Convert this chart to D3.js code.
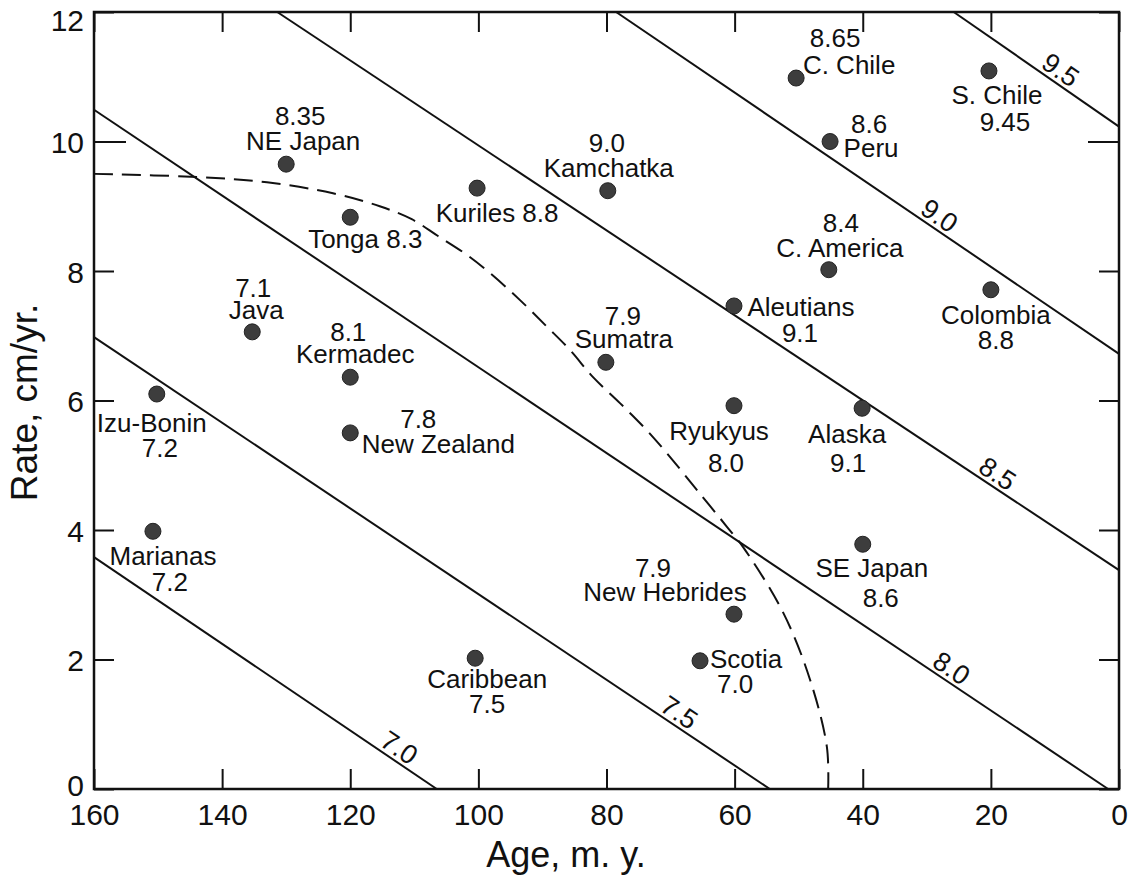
<!DOCTYPE html>
<html>
<head>
<meta charset="utf-8">
<script src="https://cdn.jsdelivr.net/npm/d3@7"></script>
<style>
  body { margin: 0; background: #fff; }
  svg text { font-family: "Liberation Sans", Arial, sans-serif; fill: #111; }
</style>
</head>
<body>
<svg id="chart" width="1132" height="882"></svg>
<script>
const names = ["NE Japan", "Tonga", "Kuriles", "Kamchatka", "C. Chile", "S. Chile", "Peru", "C. America",
  "Colombia", "Aleutians", "Sumatra", "Ryukyus", "Alaska", "Java", "Kermadec", "Izu-Bonin",
  "New Zealand", "Marianas", "SE Japan", "New Hebrides", "Scotia", "Caribbean"];
const ages = [130.0, 120.0, 100.2, 79.8, 50.4, 20.3, 45.1, 45.3, 20.0, 60.1, 80.1, 60.1, 40.1, 135.3,
  120.0, 150.2, 120.0, 150.8, 40.0, 60.1, 65.4, 100.5];
const rates = [9.65, 8.83, 9.28, 9.24, 10.98, 11.09, 10.0, 8.02, 7.71, 7.46, 6.59, 5.92, 5.88, 7.06,
  6.36, 6.10, 5.50, 3.98, 3.78, 2.70, 1.98, 2.02];
const mags = ["8.35", "8.3", "8.8", "9.0", "8.65", "9.45", "8.6", "8.4", "8.8", "9.1", "7.9", "8.0",
  "9.1", "7.1", "8.1", "7.2", "7.8", "7.2", "8.6", "7.9", "7.0", "7.5"];

const contourMags = ["7.0", "7.5", "8.0", "8.5", "9.0", "9.5"];
const contourFrom = [[160, 3.58], [160, 6.98], [160, 10.49], [131.4, 12], [78.5, 12], [25.8, 12]];
const contourTo = [[106.5, 0], [54.5, 0], [1.7, 0], [0, 3.38], [0, 6.72], [0, 10.23]];
const contourLabelAge = [113.5, 69.8, 27.3, 20.1, 29.2, 10.3];

// dashed boundary curve
const curveAge = [160, 143.5, 133.0, 122.7, 115.4, 110.4, 106.3, 101.8, 98.2, 93.5, 89.3, 85.7, 82.1,
  77.9, 73.7, 70.1, 65.9, 61.2, 58.7, 52.4, 48.2, 45.6, 45.4];
const curveRate = [9.50, 9.45, 9.37, 9.20, 9.00, 8.80, 8.54, 8.25, 7.97, 7.55, 7.14, 6.78, 6.36,
  5.96, 5.54, 5.13, 4.62, 4.05, 3.74, 2.72, 1.68, 0.65, 0.0];

const xTicks = [160, 140, 120, 100, 80, 60, 40, 20, 0];
const yTicks = [0, 2, 4, 6, 8, 10, 12];

// label placement: [dx, dy] of name line and magnitude line, relative to the dot
const labelPos = [
  [[17, -14], [14, -39]], [[15, 31]], [[20, 34]], [[1, -14], [-1, -39]], [[53, -4], [39, -31]],
  [[8, 33], [16, 60]], [[41, 15], [39, -9]], [[11, -13], [12, -38]], [[5, 34], [5, 59]],
  [[67, 10], [66, 36]], [[18, -14], [17, -37]], [[-15, 34], [-8, 66]], [[-15, 35], [-14, 64]],
  [[4, -13], [1, -35]], [[5, -14], [-2, -36]], [[-5, 38], [3, 63]], [[88, 20], [68, -5]],
  [[10, 34], [17, 60]], [[9, 33], [18, 63]], [[-69, -13], [-81, -37]], [[46, 7], [35, 32]],
  [[12, 30], [12, 55]]
];

const svg = d3.select("#chart");
const margin = { top: 12, right: 13, bottom: 93, left: 94 };
const width = 1132, height = 882;

const x = d3.scaleLinear().domain([160, 0]).range([margin.left, width - margin.right]);
const y = d3.scaleLinear().domain([0, 12]).range([height - margin.bottom, margin.top]);

const axBottom = svg.append("g")
  .attr("transform", `translate(0,${height - margin.bottom})`)
  .call(d3.axisBottom(x).tickValues(xTicks).tickSize(-20).tickSizeOuter(0).tickPadding(15));
const axTop = svg.append("g")
  .attr("transform", `translate(0,${margin.top})`)
  .call(d3.axisTop(x).tickValues(xTicks).tickSize(-20).tickSizeOuter(0).tickFormat(""));
const axLeft = svg.append("g")
  .attr("transform", `translate(${margin.left},0)`)
  .call(d3.axisLeft(y).tickValues(yTicks).tickSize(-20).tickSizeOuter(0).tickPadding(10));
const axRight = svg.append("g")
  .attr("transform", `translate(${width - margin.right},0)`)
  .call(d3.axisRight(y).tickValues(yTicks).tickSize(-20).tickSizeOuter(0).tickFormat(""));

[axBottom, axTop, axLeft, axRight].forEach(g => {
  g.select(".domain").remove();
  g.selectAll(".tick line").attr("stroke", "#111").attr("stroke-width", 2);
});
axLeft.selectAll(".tick").filter(d => d === 10).select("line").attr("x2", 32);
axRight.selectAll(".tick").filter(d => d === 10).select("line").attr("x2", -31);

axBottom.selectAll("text").attr("font-size", 30).attr("font-family", "Liberation Sans, Arial, sans-serif").attr("fill", "#111");
axLeft.selectAll("text")
  .attr("font-size", 30)
  .attr("font-family", "Liberation Sans, Arial, sans-serif")
  .attr("fill", "#111")
  .attr("dy", d => d === 12 ? "0.62em" : d === 0 ? "0.2em" : "0.38em");

svg.append("rect")
  .attr("x", margin.left)
  .attr("y", margin.top)
  .attr("width", width - margin.left - margin.right)
  .attr("height", height - margin.top - margin.bottom)
  .attr("fill", "none")
  .attr("stroke", "#111")
  .attr("stroke-width", 2.5);

svg.append("text")
  .attr("x", 566)
  .attr("y", 867)
  .attr("text-anchor", "middle")
  .attr("font-size", 36)
  .text("Age, m. y.");

svg.append("text")
  .attr("transform", `translate(37,${y(6) + 2}) rotate(-90)`)
  .attr("text-anchor", "middle")
  .attr("font-size", 37)
  .text("Rate, cm/yr.");

// contour lines
const contours = contourMags.map((m, i) => ({ mag: m, from: contourFrom[i], to: contourTo[i], at: contourLabelAge[i] }));

svg.append("g").selectAll("line")
  .data(contours)
  .join("line")
  .attr("x1", d => x(d.from[0]))
  .attr("y1", d => y(d.from[1]))
  .attr("x2", d => x(d.to[0]))
  .attr("y2", d => y(d.to[1]))
  .attr("stroke", "#111")
  .attr("stroke-width", 2);

svg.append("g").selectAll("text")
  .data(contours)
  .join("text")
  .attr("transform", d => {
    const t = (d.at - d.from[0]) / (d.to[0] - d.from[0]);
    const r = d.from[1] + t * (d.to[1] - d.from[1]);
    const ang = Math.atan2(y(d.to[1]) - y(d.from[1]), x(d.to[0]) - x(d.from[0])) * 180 / Math.PI;
    return `translate(${x(d.at)},${y(r)}) rotate(${ang})`;
  })
  .attr("dy", -4)
  .attr("text-anchor", "middle")
  .attr("font-size", 27)
  .text(d => d.mag);

// dashed curve
const curvePts = curveAge.map((a, i) => [a, curveRate[i]]);
svg.append("path")
  .datum(curvePts)
  .attr("fill", "none")
  .attr("stroke", "#111")
  .attr("stroke-width", 2)
  .attr("stroke-dasharray", "19,9")
  .attr("d", d3.line().x(d => x(d[0])).y(d => y(d[1])).curve(d3.curveCatmullRom));

// zones
const zones = names.map((n, i) => ({ name: n, age: ages[i], rate: rates[i], mag: mags[i], pos: labelPos[i] }));

svg.append("g").selectAll("circle")
  .data(zones)
  .join("circle")
  .attr("cx", d => x(d.age))
  .attr("cy", d => y(d.rate))
  .attr("r", 8)
  .attr("fill", "#3d3d3d")
  .attr("stroke", "#222")
  .attr("stroke-width", 1);

const labels = svg.append("g").selectAll("g")
  .data(zones)
  .join("g")
  .attr("transform", d => `translate(${x(d.age)},${y(d.rate)})`)
  .attr("font-size", 26)
  .attr("text-anchor", "middle");

labels.append("text")
  .attr("x", d => d.pos[0][0])
  .attr("y", d => d.pos[0][1])
  .text(d => d.pos.length === 1 ? `${d.name} ${d.mag}` : d.name);

labels.filter(d => d.pos.length > 1).append("text")
  .attr("x", d => d.pos[1][0])
  .attr("y", d => d.pos[1][1])
  .text(d => d.mag);
</script>
</body>
</html>
